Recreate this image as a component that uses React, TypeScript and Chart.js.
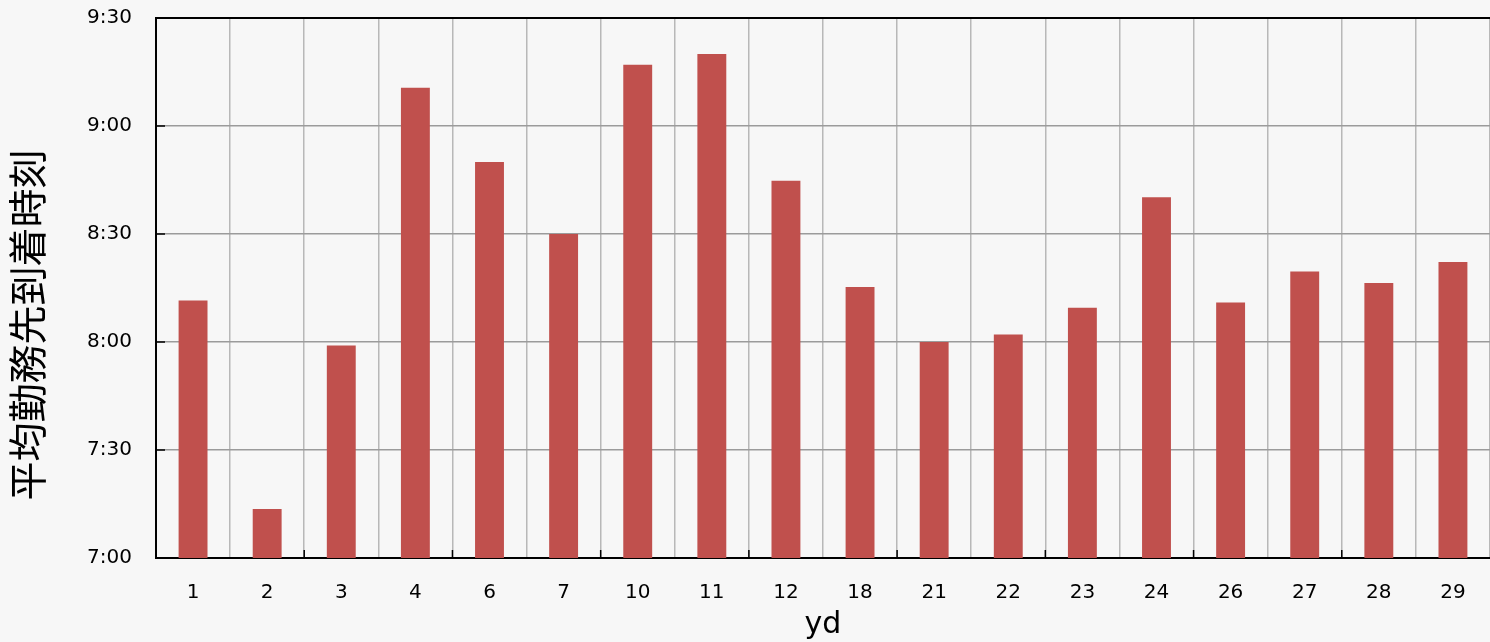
import React, { useEffect, useRef } from "react";
import { Chart, registerables } from "chart.js";

Chart.register(...registerables);

const categories = ["1", "2", "3", "4", "6", "7", "10", "11", "12", "18", "21", "22", "23", "24", "26", "27", "28", "29"];
// average arrival time, minutes after midnight
const arrivalMinutes = [491.5, 433.6, 479, 550.6, 530, 510, 557, 560, 524.8, 495.3, 480, 482.1, 489.5, 520.2, 491, 499.6, 496.4, 502.2];
const yMin = 420;
const yMax = 570;
const yStep = 30;
const yTitle = "平均勤務先到着時刻";
const xTitle = "yd";

const fmt = (v: number) => `${Math.floor(v / 60)}:${String(Math.round(v % 60)).padStart(2, "0")}`;

const decorPlugin = {
  id: "decor",
  afterDraw(chart: any) {
    const { ctx, chartArea, scales } = chart;
    const x = scales.x;
    const y = scales.y;
    ctx.save();
    ctx.strokeStyle = "#000";
    ctx.lineWidth = 1.5;
    y.ticks.forEach((t: any) => {
      const py = y.getPixelForValue(t.value);
      ctx.beginPath();
      ctx.moveTo(chartArea.left, py);
      ctx.lineTo(chartArea.left + 9, py);
      ctx.stroke();
    });
    for (let k = 2; k < categories.length; k += 2) {
      const px = (x.getPixelForValue(k - 1) + x.getPixelForValue(k)) / 2;
      ctx.beginPath();
      ctx.moveTo(px, chartArea.bottom);
      ctx.lineTo(px, chartArea.bottom - 8);
      ctx.stroke();
    }
    ctx.translate(27, 325);
    ctx.rotate(-Math.PI / 2);
    ctx.fillStyle = "#000";
    ctx.font = "39px 'Noto Sans CJK JP'";
    ctx.textAlign = "center";
    ctx.textBaseline = "middle";
    ctx.fillText(yTitle, 0, 0);
    ctx.restore();
  },
};

export default function App() {
  const ref = useRef<HTMLCanvasElement | null>(null);
  useEffect(() => {
    if (!ref.current) return;
    const chart = new Chart(ref.current, {
      type: "bar",
      data: {
        labels: categories,
        datasets: [
          {
            data: arrivalMinutes,
            backgroundColor: "#c0504d",
            borderWidth: 0,
            categoryPercentage: 1,
            barPercentage: 0.39,
          },
        ],
      },
      options: {
        animation: false,
        responsive: false,
        maintainAspectRatio: false,
        layout: { padding: { top: 18, right: 0, left: 0, bottom: 0 }, autoPadding: false },
        plugins: { legend: { display: false }, tooltip: { enabled: false } },
        scales: {
          x: {
            offset: true,
            grid: {
              offset: true,
              drawTicks: false,
              color: (c: any) => (c.index === 0 ? "#000" : "#b8b8b8"),
              lineWidth: 1.5,
            },
            border: { color: "#000", width: 2 },
            ticks: {
              color: "#000",
              font: { family: "DejaVu Sans", size: 20 },
              padding: 23,
              maxRotation: 0,
              autoSkip: false,
            },
            title: {
              display: true,
              text: xTitle,
              color: "#000",
              font: { family: "DejaVu Sans", size: 30, lineHeight: 1 },
              padding: { top: 0, bottom: 2 },
            },
            afterFit: (s: any) => {
              s.height = 84;
            },
          },
          y: {
            min: yMin,
            max: yMax,
            grid: {
              drawTicks: false,
              color: (c: any) =>
                c.tick && (c.tick.value === yMax || c.tick.value === yMin) ? "#000" : "#9b9b9b",
              lineWidth: (c: any) => (c.tick && c.tick.value === yMax ? 2 : 1.5),
            },
            border: { color: "#000", width: 2 },
            ticks: {
              stepSize: yStep,
              color: "#000",
              font: { family: "DejaVu Sans", size: 20 },
              padding: 24,
              callback: (v: any) => fmt(Number(v)),
            },
            afterFit: (s: any) => {
              s.width = 156;
              s.paddingTop = 0;
              s.paddingBottom = 0;
            },
          },
        },
      },
      plugins: [decorPlugin],
    });
    return () => chart.destroy();
  }, []);
  return (
    <div
      style={{
        position: "fixed",
        left: 0,
        top: 0,
        width: 1490,
        height: 642,
        background: "#f7f7f7",
      }}
    >
      <canvas ref={ref} width={1490} height={642} style={{ display: "block" }} />
    </div>
  );
}
